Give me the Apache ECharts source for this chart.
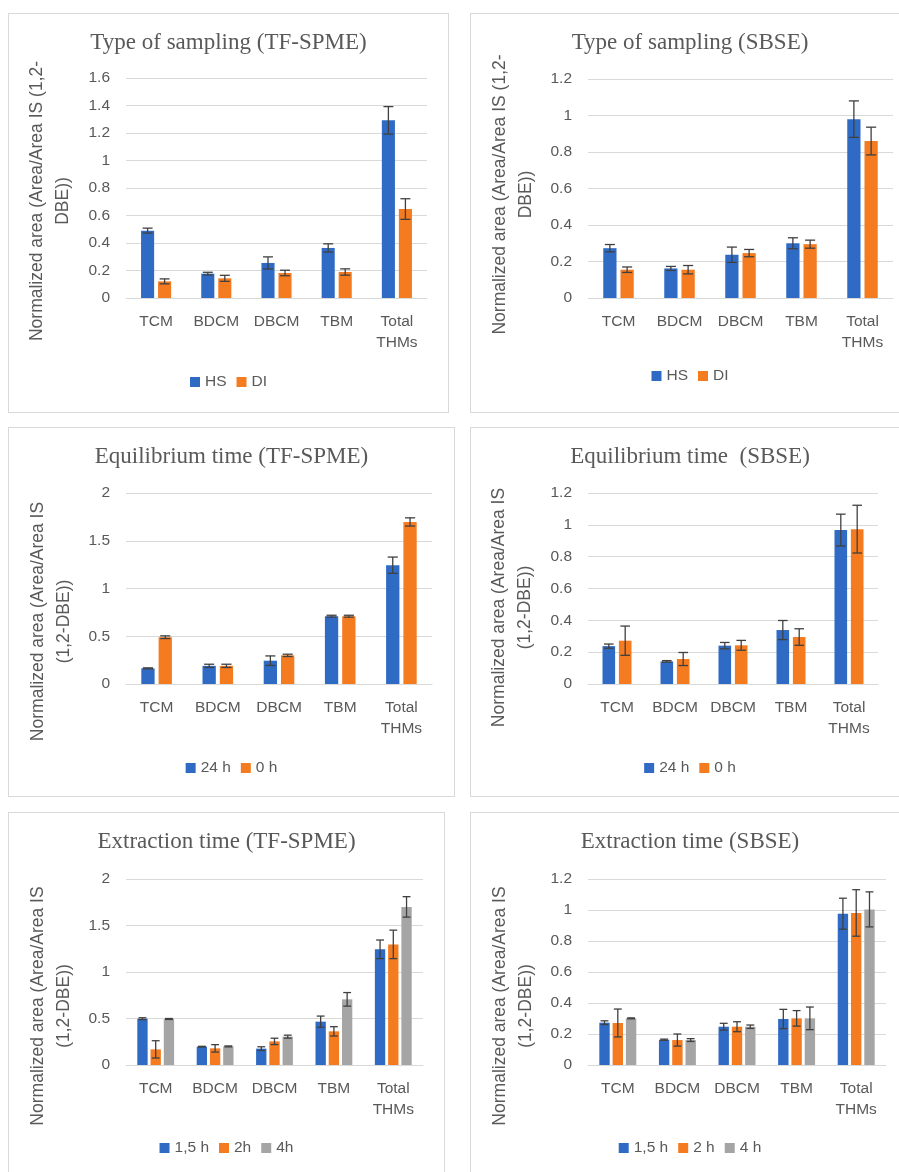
<!DOCTYPE html>
<html>
<head>
<meta charset="utf-8">
<script src="https://cdn.jsdelivr.net/npm/echarts@6/dist/echarts.min.js"></script>
<style>
  html, body { margin: 0; padding: 0; background: #fff; overflow: hidden; width: 899px; height: 1172px; }
  .chart { position: absolute; }
  .frame { position: absolute; border: 1px solid #d9d9d9; box-sizing: border-box; pointer-events: none; }
</style>
</head>
<body>
<div id="p1" class="chart" style="left:8px;top:13px;width:441px;height:400px"></div>
<div class="frame" style="left:8px;top:13px;width:441px;height:400px"></div>
<div id="p2" class="chart" style="left:470px;top:13px;width:440px;height:400px"></div>
<div class="frame" style="left:470px;top:13px;width:440px;height:400px"></div>
<div id="p3" class="chart" style="left:8px;top:427px;width:447px;height:370px"></div>
<div class="frame" style="left:8px;top:427px;width:447px;height:370px"></div>
<div id="p4" class="chart" style="left:470px;top:427px;width:440px;height:370px"></div>
<div class="frame" style="left:470px;top:427px;width:440px;height:370px"></div>
<div id="p5" class="chart" style="left:8px;top:812px;width:437px;height:400px"></div>
<div class="frame" style="left:8px;top:812px;width:437px;height:400px"></div>
<div id="p6" class="chart" style="left:470px;top:812px;width:440px;height:400px"></div>
<div class="frame" style="left:470px;top:812px;width:440px;height:400px"></div>
<script>
// ---------- data ----------
const categories = ['TCM', 'BDCM', 'DBCM', 'TBM', 'Total\nTHMs'];

// Type of sampling (TF-SPME)
const samplingSpmeHS = [0.49, 0.177, 0.255, 0.364, 1.292];
const samplingSpmeHSErr = [0.018, 0.01, 0.044, 0.03, 0.10];
const samplingSpmeDI = [0.121, 0.143, 0.182, 0.189, 0.647];
const samplingSpmeDIErr = [0.018, 0.022, 0.02, 0.023, 0.075];

// Type of sampling (SBSE)
const samplingSbseHS = [0.273, 0.162, 0.237, 0.30, 0.98];
const samplingSbseHSErr = [0.02, 0.011, 0.042, 0.03, 0.10];
const samplingSbseDI = [0.155, 0.155, 0.246, 0.295, 0.86];
const samplingSbseDIErr = [0.015, 0.023, 0.02, 0.022, 0.076];

// Equilibrium time (TF-SPME)
const equilSpme24 = [0.164, 0.19, 0.244, 0.71, 1.244];
const equilSpme24Err = [0.005, 0.017, 0.05, 0.01, 0.085];
const equilSpme0 = [0.49, 0.19, 0.30, 0.71, 1.697];
const equilSpme0Err = [0.014, 0.017, 0.012, 0.01, 0.043];

// Equilibrium time (SBSE)
const equilSbse24 = [0.238, 0.142, 0.241, 0.339, 0.967];
const equilSbse24Err = [0.013, 0.005, 0.02, 0.06, 0.10];
const equilSbse0 = [0.272, 0.157, 0.243, 0.295, 0.973];
const equilSbse0Err = [0.092, 0.041, 0.031, 0.052, 0.15];

// Extraction time (TF-SPME)
const extrSpme15 = [0.498, 0.197, 0.176, 0.466, 1.244];
const extrSpme15Err = [0.01, 0.004, 0.02, 0.06, 0.10];
const extrSpme2 = [0.168, 0.179, 0.254, 0.362, 1.297];
const extrSpme2Err = [0.093, 0.04, 0.034, 0.05, 0.153];
const extrSpme4 = [0.495, 0.20, 0.305, 0.706, 1.70];
const extrSpme4Err = [0.005, 0.005, 0.016, 0.073, 0.11];

// Extraction time (SBSE)
const extrSbse15 = [0.273, 0.163, 0.247, 0.297, 0.976];
const extrSbse15Err = [0.012, 0.004, 0.022, 0.062, 0.10];
const extrSbse2 = [0.271, 0.161, 0.247, 0.301, 0.981];
const extrSbse2Err = [0.09, 0.039, 0.032, 0.05, 0.15];
const extrSbse4 = [0.301, 0.161, 0.247, 0.301, 1.004];
const extrSbse4Err = [0.003, 0.009, 0.011, 0.073, 0.113];

// ---------- style ----------
const BLUE = '#2f6bc4', ORANGE = '#f47b20', GRAY = '#a5a5a5';
const SANS = '"Liberation Sans", Arial, sans-serif';
const SERIF = '"Liberation Serif", "Times New Roman", serif';
const TXT = '#595959';
const GRID = '#d9d9d9';
const NAME_A = 'Normalized area (Area/Area IS (1,2-\nDBE))';
const NAME_B = 'Normalized area (Area/Area IS\n(1,2-DBE))';

function makeChart(id, cfg) {
  const chart = echarts.init(document.getElementById(id), null, { renderer: 'canvas' });
  const n = cfg.series.length;
  const c = n === 2 ? 0.5 : 0.38;
  const g = n === 2 ? 0.3 : 0.28;
  const series = [];
  cfg.series.forEach(function (s) {
    series.push({
      type: 'bar', name: s.name, data: s.values,
      itemStyle: { color: s.color },
      barGap: (g * 100) + '%', barCategoryGap: (c * 100) + '%',
      silent: true
    });
  });
  cfg.series.forEach(function (s, i) {
    series.push({
      type: 'custom', name: s.name + ' err', silent: true, z: 10,
      data: s.values.map(function (v, k) { return [k, v - s.errors[k], v + s.errors[k]]; }),
      encode: { x: 0, y: [1, 2] },
      renderItem: function (params, api) {
        const band = api.size([1, 0])[0];
        const w = band * (1 - c) / (n + (n - 1) * g);
        const off = -band * (1 - c) / 2 + i * w * (1 + g) + w / 2;
        const lo = api.coord([api.value(0), api.value(1)]);
        const hi = api.coord([api.value(0), api.value(2)]);
        const x = lo[0] + off;
        const cap = w * 0.38;
        const st = { stroke: '#404040', lineWidth: 1.3 };
        return {
          type: 'group', children: [
            { type: 'line', shape: { x1: x, y1: lo[1], x2: x, y2: hi[1] }, style: st },
            { type: 'line', shape: { x1: x - cap, y1: lo[1], x2: x + cap, y2: lo[1] }, style: st },
            { type: 'line', shape: { x1: x - cap, y1: hi[1], x2: x + cap, y2: hi[1] }, style: st }
          ]
        };
      }
    });
  });
  chart.setOption({
    animation: false,
    title: {
      text: cfg.title, left: 'center', top: 18, padding: 0,
      textStyle: { fontFamily: SERIF, fontSize: 23, fontWeight: 'normal', color: TXT }
    },
    legend: {
      data: cfg.series.map(function (s) { return s.name; }),
      left: 'center', top: cfg.legendTop, padding: 0,
      icon: 'rect', itemWidth: 10, itemHeight: 10, itemGap: 10,
      textStyle: { fontFamily: SANS, fontSize: 15.5, color: TXT },
      selectedMode: false
    },
    grid: { left: 118, top: cfg.grid[0], width: cfg.grid[1], height: cfg.grid[2], containLabel: false },
    xAxis: {
      type: 'category', data: categories,
      axisLine: { show: true, lineStyle: { color: GRID, width: 1 } },
      axisTick: { show: false },
      axisLabel: { interval: 0, color: TXT, fontFamily: SANS, fontSize: 15.5, lineHeight: 21, margin: 13 }
    },
    yAxis: {
      type: 'value', min: 0, max: cfg.max, interval: cfg.interval,
      axisLine: { show: false }, axisTick: { show: false },
      splitLine: { lineStyle: { color: GRID, width: 1 } },
      axisLabel: { color: TXT, fontFamily: SANS, fontSize: 15.5, margin: 16 },
      name: cfg.name, nameLocation: 'middle', nameRotate: 90, nameGap: cfg.nameGap,
      nameTextStyle: {
        fontFamily: SANS, fontSize: 17.5, color: TXT, lineHeight: 26, align: 'center',
        padding: [0, cfg.nameShift, 0, 0]
      }
    },
    series: series
  });
  return chart;
}

makeChart('p1', {
  title: 'Type of sampling (TF-SPME)', grid: [65, 301, 220], max: 1.6, interval: 0.2,
  name: NAME_A, nameGap: 50, nameShift: 26, legendTop: 361,
  series: [
    { name: 'HS', values: samplingSpmeHS, errors: samplingSpmeHSErr, color: BLUE },
    { name: 'DI', values: samplingSpmeDI, errors: samplingSpmeDIErr, color: ORANGE }
  ]
});
makeChart('p2', {
  title: 'Type of sampling (SBSE)', grid: [66, 305, 219], max: 1.2, interval: 0.2,
  name: NAME_A, nameGap: 46, nameShift: 12, legendTop: 355,
  series: [
    { name: 'HS', values: samplingSbseHS, errors: samplingSbseHSErr, color: BLUE },
    { name: 'DI', values: samplingSbseDI, errors: samplingSbseDIErr, color: ORANGE }
  ]
});
makeChart('p3', {
  title: 'Equilibrium time (TF-SPME)', grid: [66, 306, 191], max: 2, interval: 0.5,
  name: NAME_B, nameGap: 41, nameShift: 66, legendTop: 333,
  series: [
    { name: '24 h', values: equilSpme24, errors: equilSpme24Err, color: BLUE },
    { name: '0 h', values: equilSpme0, errors: equilSpme0Err, color: ORANGE }
  ]
});
makeChart('p4', {
  title: 'Equilibrium time  (SBSE)', grid: [66, 290, 191], max: 1.2, interval: 0.2,
  name: NAME_B, nameGap: 50, nameShift: 38, legendTop: 333,
  series: [
    { name: '24 h', values: equilSbse24, errors: equilSbse24Err, color: BLUE },
    { name: '0 h', values: equilSbse0, errors: equilSbse0Err, color: ORANGE }
  ]
});
makeChart('p5', {
  title: 'Extraction time (TF-SPME)', grid: [67, 297, 186], max: 2, interval: 0.5,
  name: NAME_B, nameGap: 41, nameShift: 68, legendTop: 328,
  series: [
    { name: '1,5 h', values: extrSpme15, errors: extrSpme15Err, color: BLUE },
    { name: '2h', values: extrSpme2, errors: extrSpme2Err, color: ORANGE },
    { name: '4h', values: extrSpme4, errors: extrSpme4Err, color: GRAY }
  ]
});
makeChart('p6', {
  title: 'Extraction time (SBSE)', grid: [67, 298, 186], max: 1.2, interval: 0.2,
  name: NAME_B, nameGap: 41, nameShift: 68, legendTop: 328,
  series: [
    { name: '1,5 h', values: extrSbse15, errors: extrSbse15Err, color: BLUE },
    { name: '2 h', values: extrSbse2, errors: extrSbse2Err, color: ORANGE },
    { name: '4 h', values: extrSbse4, errors: extrSbse4Err, color: GRAY }
  ]
});
</script>
</body>
</html>
